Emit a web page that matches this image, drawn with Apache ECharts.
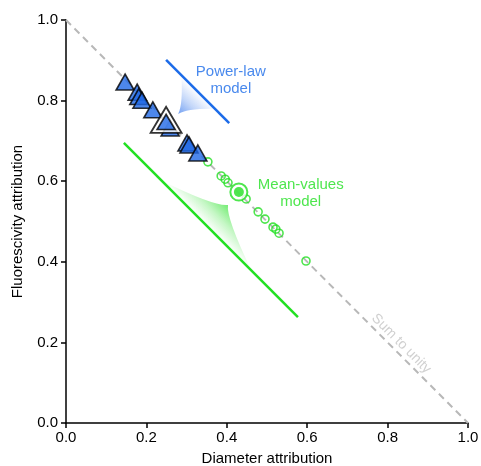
<!DOCTYPE html>
<html><head><meta charset="utf-8">
<script src="https://cdn.jsdelivr.net/npm/echarts@6/dist/echarts.min.js"></script>
<style>html,body{margin:0;padding:0;background:#fff}#c{width:481px;height:466px}</style>
</head><body><div id="c"></div>
<script>
// Data (diameter attribution, fluorescivity attribution)
const triangles = [[0.147,0.846],[0.177,0.821],[0.181,0.810],[0.189,0.801],[0.216,0.777],[0.259,0.732],[0.301,0.695],[0.306,0.690],[0.328,0.670]];
const bigTriangle = [[0.249,0.752]];
const circles = [[0.353,0.648],[0.386,0.613],[0.396,0.605],[0.403,0.596],[0.448,0.556],[0.478,0.524],[0.495,0.506],[0.515,0.486],[0.522,0.481],[0.530,0.471],[0.597,0.402]];
const bigCircle = [[0.430,0.573]];
const unityLine = [[0,1],[1,0]];
const powerLawLine = [[0.249,0.901],[0.406,0.744]];
const meanValuesLine = [[0.144,0.695],[0.577,0.263]];
// wedge anchors: apex, base start, base end (on model line)
const powerWedge = [[0.279,0.767],[0.287,0.863],[0.370,0.780]];
const meanWedge = [[0.403,0.541],[0.238,0.601],[0.462,0.377]];
const ticks = [0,0.2,0.4,0.6,0.8,1.0];
const labels = [
  {text:'Power-law\nmodel', pos:[0.41,0.849], color:'#1c6be8', rot:0},
  {text:'Mean-values\nmodel', pos:[0.584,0.571], color:'#22e022', rot:0},
  {text:'Sum to unity', pos:[0.834,0.197], color:'#c4c4c4', rot:-45}
];

const BLUE='#1c6be8', GREEN='#22e022', TRI='#2169e6';
const font='"Liberation Sans", Arial, Helvetica, sans-serif';
const chart = echarts.init(document.getElementById('c'));

function wedgeSeries(anchor, rgb){
  return {
    type:'custom', z:1, silent:true,
    data:[0],
    renderItem:function(params, api){
      const a=api.coord(anchor[0]), b=api.coord(anchor[1]), c=api.coord(anchor[2]);
      const m=[(b[0]+c[0])/2,(b[1]+c[1])/2];
      const c1=[a[0]+(m[0]-a[0])*0.35+(b[0]-m[0])*0.12, a[1]+(m[1]-a[1])*0.35+(b[1]-m[1])*0.12];
      const c2=[a[0]+(m[0]-a[0])*0.35+(c[0]-m[0])*0.12, a[1]+(m[1]-a[1])*0.35+(c[1]-m[1])*0.12];
      const path='M'+a[0]+' '+a[1]+' Q'+c1[0]+' '+c1[1]+' '+b[0]+' '+b[1]+' L'+c[0]+' '+c[1]+' Q'+c2[0]+' '+c2[1]+' '+a[0]+' '+a[1]+' Z';
      return {
        type:'path', shape:{pathData:path},
        style:{fill:new echarts.graphic.LinearGradient(a[0],a[1],m[0],m[1],[
          {offset:0,color:'rgba('+rgb+',0.65)'},{offset:0.5,color:'rgba('+rgb+',0.28)'},{offset:1,color:'rgba('+rgb+',0.0)'}],true)}
      };
    }
  };
}

const axisCommon = {
  type:'value',min:0,max:1,interval:0.2,nameLocation:'middle',
  nameTextStyle:{fontFamily:font,fontSize:15,color:'#000'},
  axisLine:{show:true,lineStyle:{color:'#000',width:1.5}},
  axisTick:{show:true,length:5,lineStyle:{color:'#000',width:1.5}},
  axisLabel:{fontFamily:font,fontSize:15,color:'#000',formatter:v=>v.toFixed(1)},
  splitLine:{show:false}
};

chart.setOption({
  animation:false,
  grid:{left:66,right:13,top:20,bottom:43,containLabel:false,outerBoundsMode:'none'},
  xAxis:Object.assign({},axisCommon,{name:'Diameter attribution',nameGap:28,
    axisLabel:Object.assign({},axisCommon.axisLabel,{margin:7})}),
  yAxis:Object.assign({},axisCommon,{name:'Fluorescivity attribution',nameGap:41,
    axisLabel:Object.assign({},axisCommon.axisLabel,{margin:8})}),
  series:[
    {type:'line',data:unityLine,symbol:'none',z:0,silent:true,lineStyle:{color:'#b8b8b8',width:2,type:[7,5]}},
    wedgeSeries(powerWedge,'40,110,235'),
    wedgeSeries(meanWedge,'40,225,40'),
    {type:'line',data:powerLawLine,symbol:'none',z:2,lineStyle:{color:BLUE,width:2.5}},
    {type:'line',data:meanValuesLine,symbol:'none',z:2,lineStyle:{color:GREEN,width:2.5}},
    {type:'scatter',data:circles,z:3,symbol:'circle',symbolSize:8,itemStyle:{color:'rgba(255,255,255,0)',borderColor:GREEN,borderWidth:1.6}},
    {type:'scatter',data:bigCircle,z:3,symbol:'circle',symbolSize:17,itemStyle:{color:'#fff',borderColor:GREEN,borderWidth:2}},
    {type:'scatter',data:bigCircle,z:4,symbol:'circle',symbolSize:10,itemStyle:{color:GREEN,borderColor:GREEN,borderWidth:0}},
    {type:'scatter',data:triangles,z:5,symbol:'triangle',symbolSize:[18,16],itemStyle:{color:TRI,borderColor:'#000',borderWidth:1.6}},
    {type:'scatter',data:bigTriangle,z:6,symbol:'triangle',symbolSize:[31,26],itemStyle:{color:'#fff',borderColor:'#000',borderWidth:1.8}},
    {type:'scatter',data:bigTriangle,z:7,symbol:'triangle',symbolSize:[18,15],symbolOffset:[0,2],itemStyle:{color:TRI,borderColor:'#000',borderWidth:1.6}},
    {type:'scatter',z:8,symbolSize:0,silent:true,
      data:labels.map(l=>({value:l.pos,label:{show:true,position:'inside',formatter:l.text,color:l.color,rotate:l.rot,
        fontFamily:font,fontSize:l.rot?14:15,lineHeight:17,align:'center',verticalAlign:'middle'}}))}
  ]
});
</script></body></html>
